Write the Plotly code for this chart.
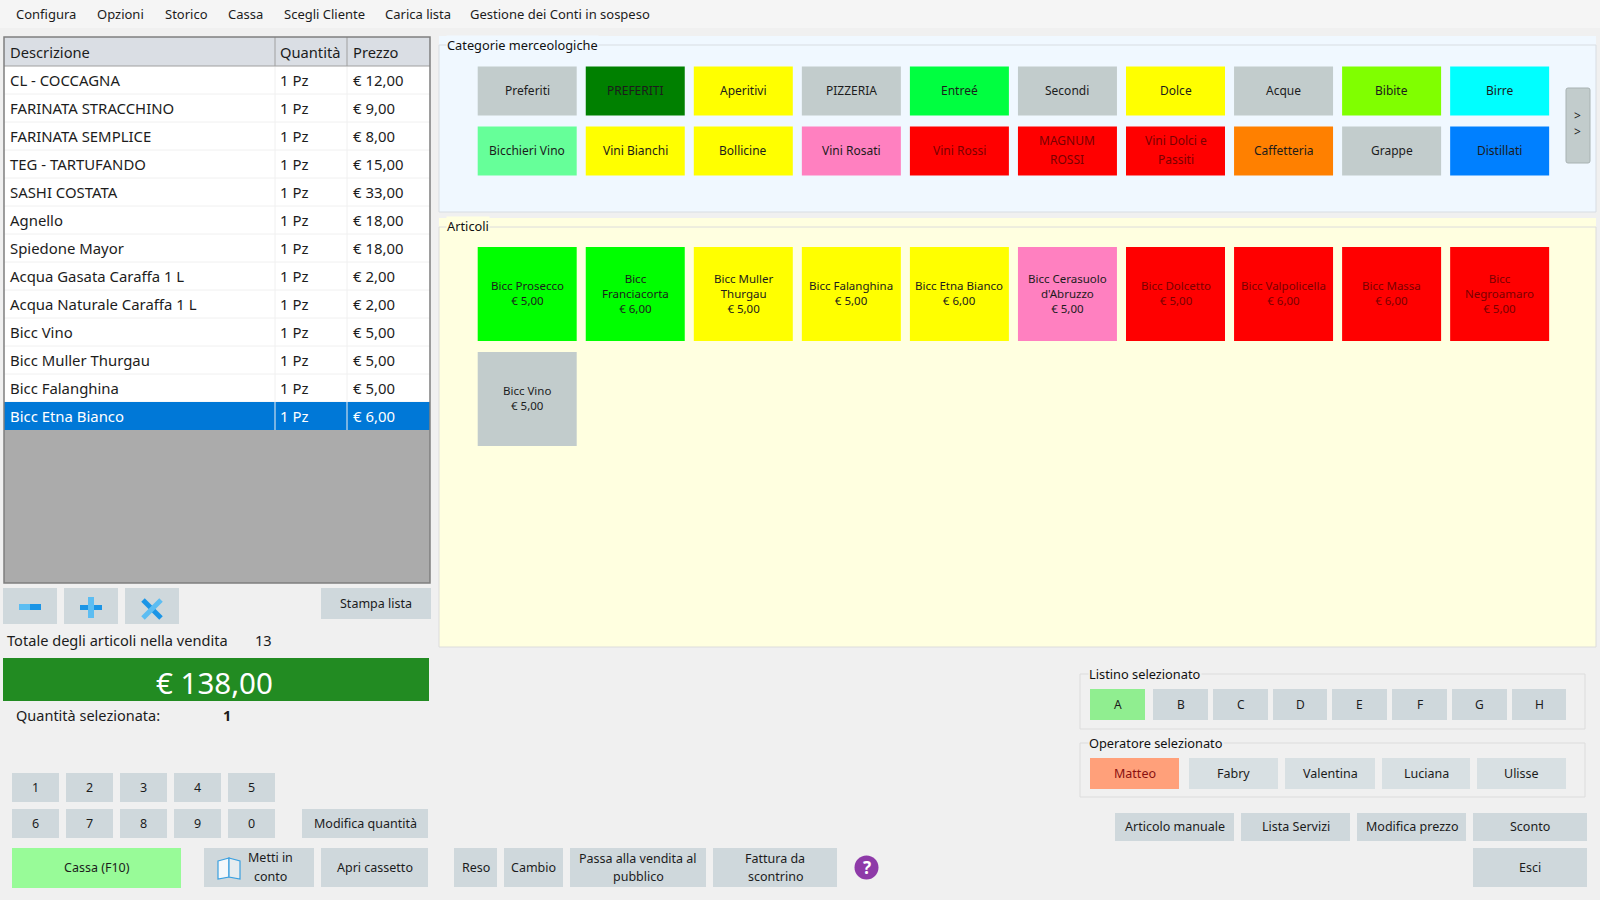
import plotly.graph_objects as go

FONT = "Noto Sans"
DARK = "#1c1c1c"

MENU_ITEMS = ["Configura", "Opzioni", "Storico", "Cassa", "Scegli Cliente", "Carica lista",
              "Gestione dei Conti in sospeso"]
MENU_LEFTS = [16, 97, 165, 228, 284, 385, 470]

COL_HEADERS = ["Descrizione", "Quantità", "Prezzo"]
DESCRIZIONI = ["CL - COCCAGNA", "FARINATA STRACCHINO", "FARINATA SEMPLICE", "TEG - TARTUFANDO",
               "SASHI COSTATA", "Agnello", "Spiedone Mayor", "Acqua Gasata Caraffa 1 L",
               "Acqua Naturale Caraffa 1 L", "Bicc Vino", "Bicc Muller Thurgau", "Bicc Falanghina",
               "Bicc Etna Bianco"]
QUANTITA = ["1 Pz"] * 13
PREZZI = ["€ 12,00", "€ 9,00", "€ 8,00", "€ 15,00", "€ 33,00", "€ 18,00", "€ 18,00", "€ 2,00",
          "€ 2,00", "€ 5,00", "€ 5,00", "€ 5,00", "€ 6,00"]

CATEGORIE = ["Preferiti", "PREFERITI", "Aperitivi", "PIZZERIA", "Entreé", "Secondi", "Dolce", "Acque",
             "Bibite", "Birre", "Bicchieri Vino", "Vini Bianchi", "Bollicine", "Vini Rosati", "Vini Rossi",
             "MAGNUM<br>ROSSI", "Vini Dolci e<br>Passiti", "Caffetteria", "Grappe", "Distillati"]
CATEGORIE_COL = ["#c2cccc", "#008000", "#ffff00", "#c2cccc", "#00ff40", "#c2cccc", "#ffff00", "#c2cccc",
                 "#80ff00", "#00ffff", "#66ff99", "#ffff00", "#ffff00", "#ff80c0", "#ff0000",
                 "#ff0000", "#ff0000", "#ff8000", "#c2cccc", "#0080ff"]

ARTICOLI = ["Bicc Prosecco<br>€ 5,00", "Bicc<br>Franciacorta<br>€ 6,00", "Bicc Muller<br>Thurgau<br>€ 5,00",
            "Bicc Falanghina<br>€ 5,00", "Bicc Etna Bianco<br>€ 6,00", "Bicc Cerasuolo<br>d'Abruzzo<br>€ 5,00",
            "Bicc Dolcetto<br>€ 5,00", "Bicc Valpolicella<br>€ 6,00", "Bicc Massa<br>€ 6,00",
            "Bicc<br>Negroamaro<br>€ 5,00", "Bicc Vino<br>€ 5,00"]
ARTICOLI_COL = ["#00ff00", "#00ff00", "#ffff00", "#ffff00", "#ffff00", "#ff80c0", "#ff0000", "#ff0000",
                "#ff0000", "#ff0000", "#c2cccc"]

LISTINI = ["A", "B", "C", "D", "E", "F", "G", "H"]
LISTINI_EDGES = [(1090, 1145), (1153, 1208), (1213, 1268), (1273, 1327), (1332, 1387), (1392, 1447),
                 (1452, 1507), (1512, 1566)]
OPERATORI = ["Matteo", "Fabry", "Valentina", "Luciana", "Ulisse"]
OPERATORI_EDGES = [(1090, 1179), (1189, 1278), (1285, 1375), (1382, 1470), (1477, 1566)]
TASTI = ["1", "2", "3", "4", "5", "6", "7", "8", "9", "0"]

GREY = "#cfd8dc"
BLUE = "#1b95e6"
BLUE_LT = "#5cbdf2"
LINE_PITCH = 18.4

fig = go.Figure()
shapes = []
notes = []


def box(x0, y0, x1, y1, fill, line=None, width=1):
    shapes.append(dict(type="rect", x0=x0, y0=y0, x1=x1, y1=y1, fillcolor=fill, layer="below",
                       line=dict(color=line, width=width) if line else dict(width=0)))


def hline(x0, y0, x1, y1, color, width=1):
    shapes.append(dict(type="line", x0=x0, y0=y0, x1=x1, y1=y1, layer="below",
                       line=dict(color=color, width=width)))


def poly(path, fill, line=None, width=1):
    shapes.append(dict(type="path", path=path, fillcolor=fill, layer="below",
                       line=dict(color=line, width=width) if line else dict(width=0)))


def label(x, y, text, size=12.5, color=DARK, anchor="center", bg=None, bold=False):
    # the text sits about a pixel high and left of where the boxes would put it
    notes.append(dict(x=x - 1 if anchor == "left" else x, y=y - 1, text=f"<b>{text}</b>" if bold else text,
                      showarrow=False, xanchor=anchor, yanchor="middle", align="center", bgcolor=bg, borderpad=0,
                      font=dict(family=FONT, size=size, color=color)))


def stacked(x, y, text, size=12.5, color=DARK):
    lines = text.split("<br>")
    for n, line in enumerate(lines):
        label(x, y + (n - (len(lines) - 1) / 2) * LINE_PITCH, line, size=size, color=color)


def button(x0, y0, x1, y1, text, fill=GREY, size=12.5, color=DARK, dy=0.7):
    box(x0, y0, x1, y1, fill)
    stacked((x0 + x1) / 2, (y0 + y1) / 2 + dy, text, size=size, color=color)


def text_on(fill):
    return "#7a0000" if fill == "#ff0000" else DARK


# menu bar
box(0, 0, 1600, 28, "#f5f5f5")
for name, left in zip(MENU_ITEMS, MENU_LEFTS):
    label(left, 15, name, size=13, anchor="left")

# sales list
ROW_H = 28
TOP = 66
COLS = [4, 275, 347, 430]
TEXT_PAD = [6, 5, 6]
box(COLS[0], 37, COLS[3], TOP, "#dadee4")
box(COLS[0], TOP, COLS[3], TOP + ROW_H * len(DESCRIZIONI), "#ffffff")
box(COLS[0], TOP + ROW_H * len(DESCRIZIONI), COLS[3], 583, "#ababab")
for col, pad, head in zip(COLS, TEXT_PAD, COL_HEADERS):
    label(col + pad, 52.5, head, size=14.7, anchor="left")
for i, (desc, qta, prezzo) in enumerate(zip(DESCRIZIONI, QUANTITA, PREZZI)):
    y0 = TOP + i * ROW_H
    selected = i == len(DESCRIZIONI) - 1
    if selected:
        box(COLS[0], y0, COLS[3], y0 + ROW_H, "#0078d7")
    else:
        hline(COLS[0], y0 + ROW_H, COLS[3], y0 + ROW_H, "#f0f0f0")
    col_txt = "#ffffff" if selected else DARK
    for col, pad, txt in zip(COLS, TEXT_PAD, [desc, qta, prezzo]):
        label(col + pad, y0 + ROW_H / 2 + 0.5, txt, size=14.9, anchor="left", color=col_txt)
hline(COLS[1], 37, COLS[1], TOP, "#a0a0a0")
hline(COLS[2], 37, COLS[2], TOP, "#a0a0a0")
hline(COLS[1], TOP, COLS[1], TOP + ROW_H * 13, "#f0f0f0")
hline(COLS[2], TOP, COLS[2], TOP + ROW_H * 13, "#f0f0f0")
hline(COLS[0], TOP, COLS[3], TOP, "#a0a0a0")
box(COLS[0], 37, COLS[3], 583, "rgba(0,0,0,0)", line="#7f7f7f", width=1.5)

# edit buttons
for left in [3, 64, 125]:
    box(left, 588, left + 54, 624, GREY)
box(19, 604, 30, 610, BLUE_LT)
box(30, 604, 41, 610, BLUE)
box(80, 605, 102, 610, BLUE)
box(88, 597, 94, 618, BLUE_LT)
hline(143, 600, 161, 618, BLUE, width=5)
hline(161, 600, 143, 618, BLUE_LT, width=5)
button(321, 588, 431, 619, "Stampa lista")

label(7, 641, "Totale degli articoli nella vendita", size=14.6, anchor="left")
label(263, 641, "13", size=14.6)
box(3, 658, 429, 701, "#228b22")
label(214, 683.5, "€ 138,00", size=29.5, color="#ffffff")
label(16, 715.5, "Quantità selezionata:", size=14.5, anchor="left")
label(227, 715.5, "1", size=14.5, bold=True)

# keypad
for i, tasto in enumerate(TASTI):
    left = 12 + (i % 5) * 54
    top = 773 if i < 5 else 809
    button(left, top, left + 47, top + 29, tasto)
button(302, 809, 428, 838, "Modifica quantità")
button(12, 848, 181, 888, "Cassa (F10)", fill="#98fb98", dy=0)
box(204, 848, 314, 887, GREY)
stacked(270, 868, "Metti in<br>conto")
poly("M 218 861 L 229 858 L 229 877 L 218 879 Z", "#f4f8fb", line="#3aa0e0", width=1.2)
poly("M 229 858 L 240 861 L 240 879 L 229 877 Z", "#e6ecef", line="#3aa0e0", width=1.2)

button(321, 848, 428, 887, "Apri cassetto")

# category panel
box(439, 36, 1596, 212, "#f0f8ff")
box(439, 45, 1596, 212, "rgba(0,0,0,0)", line="#d8dde2")
label(447, 46, "Categorie merceologiche", size=12.8, anchor="left", bg="#f0f8ff", color="#111111")
for i, (cat, fill) in enumerate(zip(CATEGORIE, CATEGORIE_COL)):
    left = 477.7 + (i % 10) * 108.05
    top = 66.5 if i < 10 else 126.5
    button(left, top, left + 99, top + 49, cat, fill=fill, size=12, color=text_on(fill), dy=0)
poly("M 1568 88 L 1588 88 Q 1590 88 1590 90 L 1590 161 Q 1590 163 1588 163 L 1568 163 Q 1566 163 1566 161 "
     "L 1566 90 Q 1566 88 1568 88 Z", "#c2cccc", line="#a8b2b2")
label(1577, 124, "&gt;<br>&gt;", size=12)

# articles panel
box(439, 218, 1596, 647, "#ffffe0")
box(439, 227, 1596, 647, "rgba(0,0,0,0)", line="#dcdcdc")
label(447, 227, "Articoli", size=12.8, anchor="left", bg="#ffffe0", color="#111111")
for i, (art, fill) in enumerate(zip(ARTICOLI, ARTICOLI_COL)):
    left = 477.7 + (i % 10) * 108.05
    top = 247 if i < 10 else 352
    box(left, top, left + 99, top + 94, fill)
    label(left + 49.5, top + 47, art, size=11.5, color=text_on(fill))

# price list and operator groups
box(1080, 674, 1585, 729, "rgba(0,0,0,0)", line="#dcdcdc")
label(1089, 674.5, "Listino selezionato", size=12.8, anchor="left", bg="#f0f0f0", color="#111111")
for name, (x0, x1) in zip(LISTINI, LISTINI_EDGES):
    button(x0, 689, x1, 720, name, fill="#90ee90" if name == "A" else GREY, size=12)
box(1080, 743, 1585, 797, "rgba(0,0,0,0)", line="#dcdcdc")
label(1089, 743.5, "Operatore selezionato", size=12.8, anchor="left", bg="#f0f0f0", color="#111111")
for name, (x0, x1) in zip(OPERATORI, OPERATORI_EDGES):
    button(x0, 758, x1, 789, name, fill="#ffa07a" if name == "Matteo" else "#d8e0e3",
           color="#8a1010" if name == "Matteo" else DARK)

# bottom buttons
button(1115, 813, 1234, 841, "Articolo manuale", dy=0)
button(1241, 813, 1350, 841, "Lista Servizi", dy=0)
button(1357, 813, 1466, 841, "Modifica prezzo", dy=0)
button(1473, 813, 1587, 841, "Sconto", dy=0)
button(1473, 848, 1587, 887, "Esci")
button(454, 848, 497, 887, "Reso")
button(504, 848, 563, 887, "Cambio")
button(570, 848, 706, 887, "Passa alla vendita al<br>pubblico")
button(713, 848, 837, 887, "Fattura da<br>scontrino")
shapes.append(dict(type="circle", x0=854.5, y0=855.5, x1=878.5, y1=879.5, fillcolor="#8e3aa8", layer="below",
                   line=dict(width=0)))
label(866.5, 868.5, "?", size=17, color="#ffffff", bold=True)

fig.update_layout(
    width=1600, height=900, margin=dict(l=0, r=0, t=0, b=0), showlegend=False,
    paper_bgcolor="#f0f0f0", plot_bgcolor="#f0f0f0", shapes=shapes, annotations=notes,
    xaxis=dict(range=[0, 1600], visible=False, fixedrange=True),
    yaxis=dict(range=[900, 0], visible=False, fixedrange=True),
)

fig.write_html("out.html", config=dict(displayModeBar=False),
               post_script="document.body.style.margin='0';document.body.style.overflow='hidden';")
